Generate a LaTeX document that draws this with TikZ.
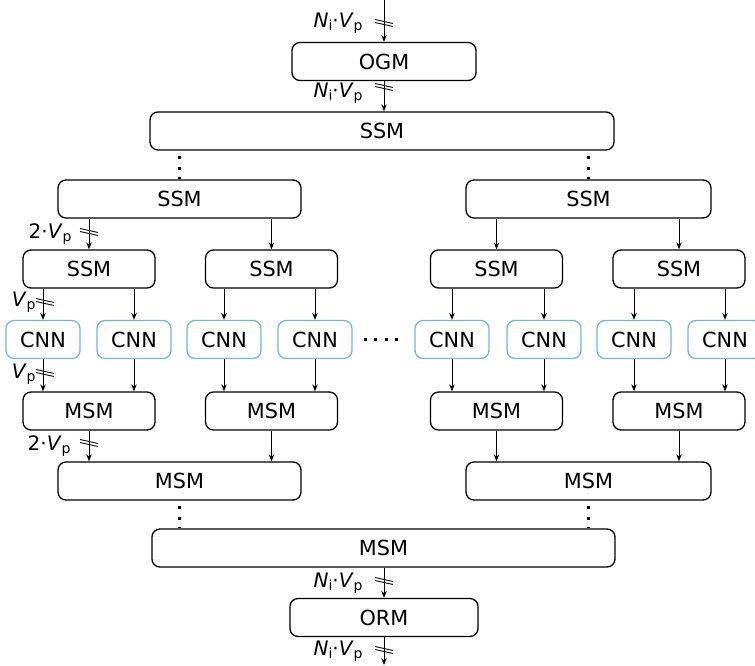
\documentclass[tikz,border=0pt]{standalone}
\usepackage{fontspec}
\setmainfont{DejaVu Sans}
\usetikzlibrary{arrows.meta}
\definecolor{cnnblue}{RGB}{110,180,230}
\newcommand{\sub}[1]{\raisebox{-0.3ex}{\fontsize{14}{16}\selectfont #1}}
\tikzset{
  blk/.style={draw, line width=1.3pt, rounded corners=8pt, minimum height=38pt,
    inner sep=0pt, font=\fontsize{20.8}{24}\selectfont},
  cnn/.style={blk, draw=cnnblue, minimum width=74pt},
  lbl/.style={anchor=base east, inner sep=0pt, font=\fontsize{20}{24}\selectfont},
  vdots/.style={line width=3pt, dash pattern=on 3pt off 7.5pt, dash phase=5pt},
  hdots/.style={line width=3pt, dash pattern=on 3pt off 7.5pt},
  busmark/.pic={
    \draw[line width=0.9pt] (-9,-3.5) -- (9,0.5);
    \draw[line width=0.9pt] (-9,-0.5) -- (9,3.5);
  }
}
\begin{document}
\begin{tikzpicture}
      [x=1pt,y=-1pt, line width=1pt, >={Stealth[length=7pt,width=5.5pt]}]
      \useasboundingbox (0,0) rectangle (755,665);
      % split side
      \node[blk, minimum width=184pt] (ogm) at (384,61.5) {OGM};
      \node[blk, minimum width=464pt] (s1) at (382,131) {SSM};
      \node[blk, minimum width=243pt] (s2a) at (179.5,199) {SSM};
      \node[blk, minimum width=245pt] (s2b) at (588.5,199) {SSM};
      \foreach \n/\x in {a/89,b/271.5,c/496.5,d/679} {
        \node[blk, minimum width=132pt] (s3\n) at (\x,269) {SSM};
        \node[blk, minimum width=132pt] (m3\n) at (\x,411) {MSM};
      }
      \foreach \i/\x in {1/43,2/134,3/224,4/315,5/452,6/544,7/634,8/725} {
        \node[cnn] (c\i) at (\x,339.5) {CNN};
      }
      % merge side
      \node[blk, minimum width=243pt] (m2a) at (179.5,481) {MSM};
      \node[blk, minimum width=245pt] (m2b) at (588.5,481) {MSM};
      \node[blk, minimum width=463pt] (m1) at (383.5,548) {MSM};
      \node[blk, minimum width=188pt] (orm) at (384,617.5) {ORM};

      \coordinate (in) at (384,0);
      \coordinate (out) at (384,665);
      \draw[->] (in) -- (ogm);
      \draw[->] (ogm.south) -- (ogm.south |- s1.north);
      \draw[->] (m1.south -| orm) -- (orm);
      \draw[->] (orm) -- (out);

      \foreach \p/\c in {s2a/s3a,s2a/s3b,s2b/s3c,s2b/s3d,s3a/c1,s3a/c2,s3b/c3,s3b/c4,
                         s3c/c5,s3c/c6,s3d/c7,s3d/c8} {
        \draw[->] (\c.north |- \p.south) -- (\c.north);
      }
      \foreach \c/\p in {c1/m3a,c2/m3a,c3/m3b,c4/m3b,c5/m3c,c6/m3c,c7/m3d,c8/m3d,
                         m3a/m2a,m3b/m2a,m3c/m2b,m3d/m2b} {
        \draw[->] (\c.south) -- (\c.south |- \p.north);
      }

      \draw[vdots] (s1.south -| s2a) -- (s2a.north);
      \draw[vdots] (s1.south -| s2b) -- (s2b.north);
      \draw[vdots] (m2a.south) -- (m2a.south |- m1.north);
      \draw[vdots] (m2b.south) -- (m2b.south |- m1.north);
      \draw[hdots] ([xshift=11pt]c4.east) -- ([xshift=45pt]c4.east);

      % bus widths
      \foreach \x/\y in {384/23,384/87,89/232,45/302,45/373,89/443,384/581,384/650} {
        \path (\x,\y) pic {busmark};
      }
      \node[lbl] (l1) at (363,27) {\textit{N}\sub{i}·\textit{V}\sub{p}};
      \node[lbl] (l2) at (363,97) {\textit{N}\sub{i}·\textit{V}\sub{p}};
      \node[lbl] (l3) at (72,238) {2·\textit{V}\sub{p}};
      \node[lbl] (l4) at (36,306) {\textit{V}\sub{p}};
      \node[lbl] (l5) at (36,378) {\textit{V}\sub{p}};
      \node[lbl] (l6) at (71,450) {2·\textit{V}\sub{p}};
      \node[lbl] (l7) at (363,587) {\textit{N}\sub{i}·\textit{V}\sub{p}};
      \node[lbl] (l8) at (363,655) {\textit{N}\sub{i}·\textit{V}\sub{p}};
    \end{tikzpicture}
\end{document}
